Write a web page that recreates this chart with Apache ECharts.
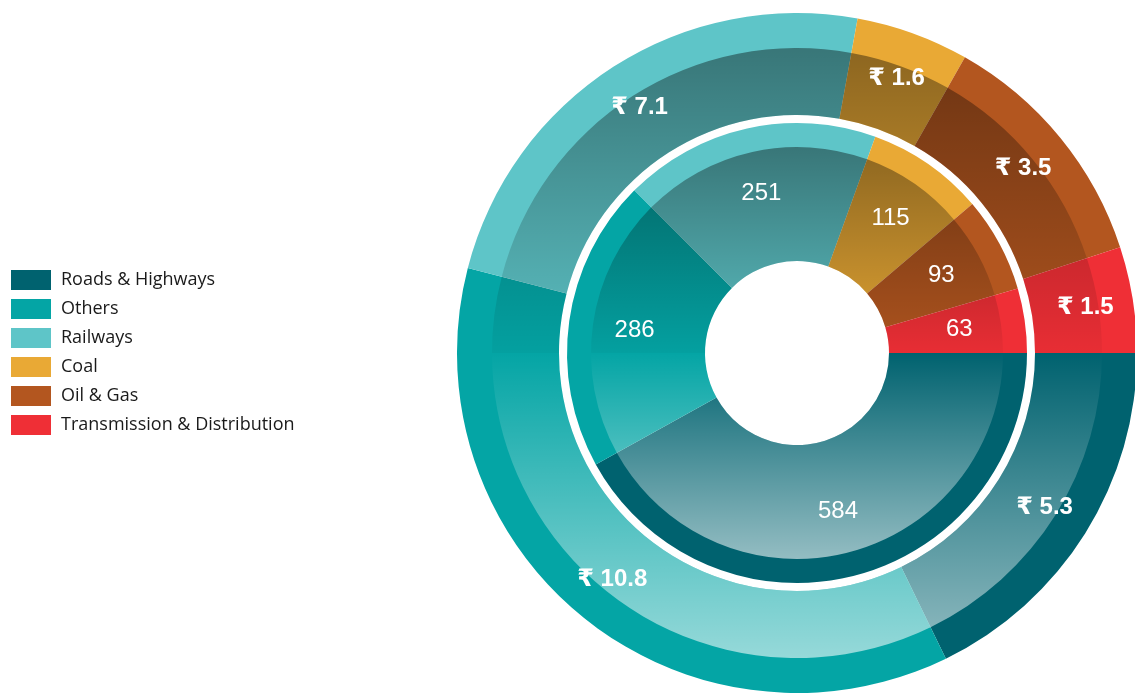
<!DOCTYPE html>
<html>
<head>
<meta charset="utf-8">
<title>Infrastructure investment</title>
<script src="https://cdn.jsdelivr.net/npm/echarts@6/dist/echarts.min.js"></script>
<style>
html,body{
    margin:0;
    padding:0;
    background:#fff;
}
#chart{
    width:1135px;
    height:694px;
}
</style>
</head>
<body>
<div id="chart"></div>
<script>
// categories, same order for both rings
const categories=['Roads & Highways','Others','Railways','Coal','Oil & Gas','Transmission & Distribution']
const colors=['#00626f','#04a5a5','#5ec5c8','#e9a935','#b3561f','#ef2f36']
// outer ring (₹ lakh crore)
const outerValues=[5.3,10.8,7.1,1.6,3.5,1.5]
// inner ring
const innerValues=[584,286,251,115,93,63]

const cx=797,cy=353
// radii of the two rings
const outerR=[238,340],outerShade=305
const innerR=[92,230],innerShade=206

function toData(vals){
    return vals.map((v,i)=>({name:categories[i],value:v,itemStyle:{color:colors[i]}}))
}

// vertical shading over the inner part of each ring: dark at top, light at bottom
function shade(r){
    return {
        type:'linear',global:true,
        x:0,y:cy-r,x2:0,y2:cy+r,
        colorStops:[
            {offset:0,color:'rgba(0,0,0,0.4)'},
            {offset:0.5,color:'rgba(0,0,0,0.03)'},
            {offset:0.5,color:'rgba(255,255,255,0)'},
            {offset:1,color:'rgba(255,255,255,0.58)'}
        ]
    }
}

const base={
    type:'pie',
    center:[cx,cy],
    startAngle:0,
    clockwise:true,
    avoidLabelOverlap:false,
    labelLine:{show:false},
    emphasis:{disabled:true},
    animation:false
}

const myChart=echarts.init(document.getElementById('chart'))
myChart.setOption({
    legend:{
        orient:'vertical',
        left:11,
        top:270,
        padding:0,
        icon:'rect',
        itemWidth:40,
        itemHeight:20,
        itemGap:9,
        selectedMode:false,
        data:categories.map((c,i)=>({name:c,itemStyle:{color:colors[i]}})),
        textStyle:{
            fontFamily:'Open Sans',
            fontSize:18,
            color:'#1a1a1a',
            lineHeight:20,
            padding:[0,0,0,5]
        }
    },
    series:[
        // outer ring colours
        Object.assign({},base,{
            name:'outer',z:2,
            radius:outerR,
            itemStyle:{borderWidth:0},
            label:{show:false},
            data:toData(outerValues)
        }),
        Object.assign({},base,{
            name:'outerShade',z:3,silent:true,
            radius:[outerR[0],outerShade],
            itemStyle:{color:shade(outerShade),borderWidth:0},
            label:{show:false},
            data:toData(outerValues).map(d=>({name:d.name,value:d.value}))
        }),
        // inner ring colours
        Object.assign({},base,{
            name:'inner',z:2,
            radius:innerR,
            itemStyle:{borderWidth:0},
            label:{show:false},
            data:toData(innerValues)
        }),
        Object.assign({},base,{
            name:'innerShade',z:3,silent:true,
            radius:[innerR[0],innerShade],
            itemStyle:{color:shade(innerShade),borderWidth:0},
            label:{show:false},
            data:toData(innerValues).map(d=>({name:d.name,value:d.value}))
        }),
        // label layers on top
        Object.assign({},base,{
            name:'outerLabels',z:4,silent:true,
            radius:outerR,
            itemStyle:{color:'rgba(0,0,0,0)',borderWidth:0},
            label:{
                show:true,position:'inside',
                formatter:p=>'₹ '+p.value,
                color:'#fff',fontSize:24,fontWeight:'bold',
                fontFamily:'Liberation Sans, DejaVu Sans, sans-serif'
            },
            data:outerValues.map((v,i)=>({name:categories[i],value:v}))
        }),
        Object.assign({},base,{
            name:'innerLabels',z:4,silent:true,
            radius:innerR,
            itemStyle:{color:'rgba(0,0,0,0)',borderWidth:0},
            label:{
                show:true,position:'inside',
                formatter:'{c}',
                color:'#fff',fontSize:24,
                fontFamily:'Liberation Sans, sans-serif'
            },
            data:innerValues.map((v,i)=>({name:categories[i],value:v}))
        })
    ]
})
</script>
</body>
</html>
